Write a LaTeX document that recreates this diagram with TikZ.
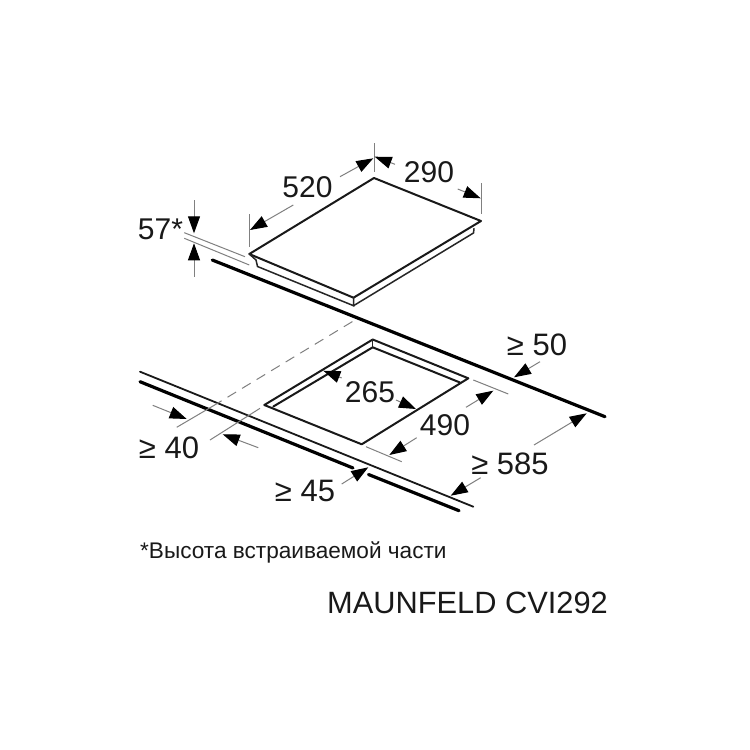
\documentclass[tikz,border=0pt]{standalone}
\usepackage{fontspec}
\setmainfont{Liberation Sans}
\usetikzlibrary{arrows.meta}
\tikzset{
 outline/.style={draw=black!90,line width=2pt,line cap=round,line join=round},
 slimline/.style={draw=black!85,line width=1.5pt,line cap=round},
 heavy/.style={draw=black,line width=3.2pt,line cap=round},
 counter/.style={draw=black!90,line width=1.8pt,line cap=round},
 ext/.style={draw=black!50,line width=1pt},
 dim/.style={draw=black!50,line width=1pt,-{Triangle[length=17pt,width=12pt,color=black]}},
 lab/.style={font=\fontsize{30}{33}\selectfont,text=black!90,inner sep=0pt},
 gelab/.style={font=\fontsize{31}{33}\selectfont,text=black!90,inner sep=0pt},
}
\begin{document}
\begin{tikzpicture}[x=1pt,y=-1pt]
\useasboundingbox (0,0) rectangle (750,750);
\fill[white] (0,0) rectangle (750,750);
% hob
\coordinate (hl) at (249.3,254);
\coordinate (ht) at (374,178);
\coordinate (hr) at (481,221);
\coordinate (hb) at (353.5,297.7);
\draw[outline] (hl)--(ht)--(hr)--(hb)--cycle;
\draw[slimline] (hl)--(256,260)--(257.5,266.5)--(353.5,305.7)--(hb);
\draw[slimline] (353.5,305.7)--(473.5,233)--(474,228.5);
% counter
\draw[heavy] (212.3,260)--(605,416.7);
\draw[counter] (140,371.7)--(473.3,506.7);
\draw[heavy] (140,381.7)--(353,468);
\draw[heavy] (368.5,474.5)--(459,510.7);
% cut-out
\draw[outline] (372.7,339.5)--(264.3,405)--(361.7,444.3)--(468.3,378.3)--cycle;
\draw[outline] (273.3,406.5)--(372.7,347.3)--(460,382.5);
\draw[slimline] (372.7,339.5)--(372.7,347.3);
% dashed
\draw[ext] (176.7,427.3)--(213,406);
\draw[ext,dash pattern=on 10pt off 7pt] (213,406)--(355,320);
\draw[ext] (210,440)--(260,408.3);
% extension lines
\draw[ext] (184.3,232.7)--(245,256.7);
\draw[ext] (184.3,238.3)--(249.3,265);
\draw[ext] (249.3,214)--(249.3,247.3);
\draw[ext] (374,143.3)--(374,171.7);
\draw[ext] (481,183.3)--(481,214.3);
\draw[ext] (473.3,380)--(508.3,394);
\draw[ext] (366,446.7)--(401.7,461.7);
% dimension arrows
\draw[dim] (194,200)--(194,233.3);
\draw[dim] (194,276.7)--(194,243.3);
\draw[dim] (293.3,205)--(250,230);
\draw[dim] (340,176.7)--(373.3,158.3);
\draw[dim] (395,164.3)--(374.7,156.7);
\draw[dim] (457.7,189)--(480.7,198.3);
\draw[dim] (152.7,405.3)--(186.7,419);
\draw[dim] (258.3,447.7)--(222.7,434.3);
\draw[dim] (341.7,484)--(368.3,467.3);
\draw[dim] (341.7,378)--(323.3,370.7);
\draw[dim] (396,400)--(416,409);
\draw[dim] (466,407.3)--(493.3,390.7);
\draw[dim] (416.7,437.7)--(389.3,455);
\draw[dim] (534,445)--(586.7,413.3);
\draw[dim] (480.7,477.7)--(450.7,495.7);
\draw[dim] (540,361.7)--(514,377.3);
% labels
\node[lab] (l520) at (307.5,187) {520};
\node[lab] (l290) at (429,172) {290};
\node[lab] (l57) at (160.5,229) {57*};
\node[gelab] (l50) at (537,345) {≥ 50};
\node[lab] (l265) at (370,392) {265};
\node[lab] (l490) at (445,425) {490};
\node[gelab] (l585) at (510,464) {≥ 585};
\node[gelab] (l40) at (169,448) {≥ 40};
\node[gelab] (l45) at (305,491) {≥ 45};
\node[inner sep=0pt,anchor=west,font=\fontsize{22.6}{25}\selectfont,text=black!90] (note) at (140,552) {*Высота встраиваемой части};
\node[inner sep=0pt,anchor=west,font=\fontsize{30.8}{34}\selectfont,text=black!90] (model) at (327,603) {MAUNFELD CVI292};
\end{tikzpicture}
\end{document}
